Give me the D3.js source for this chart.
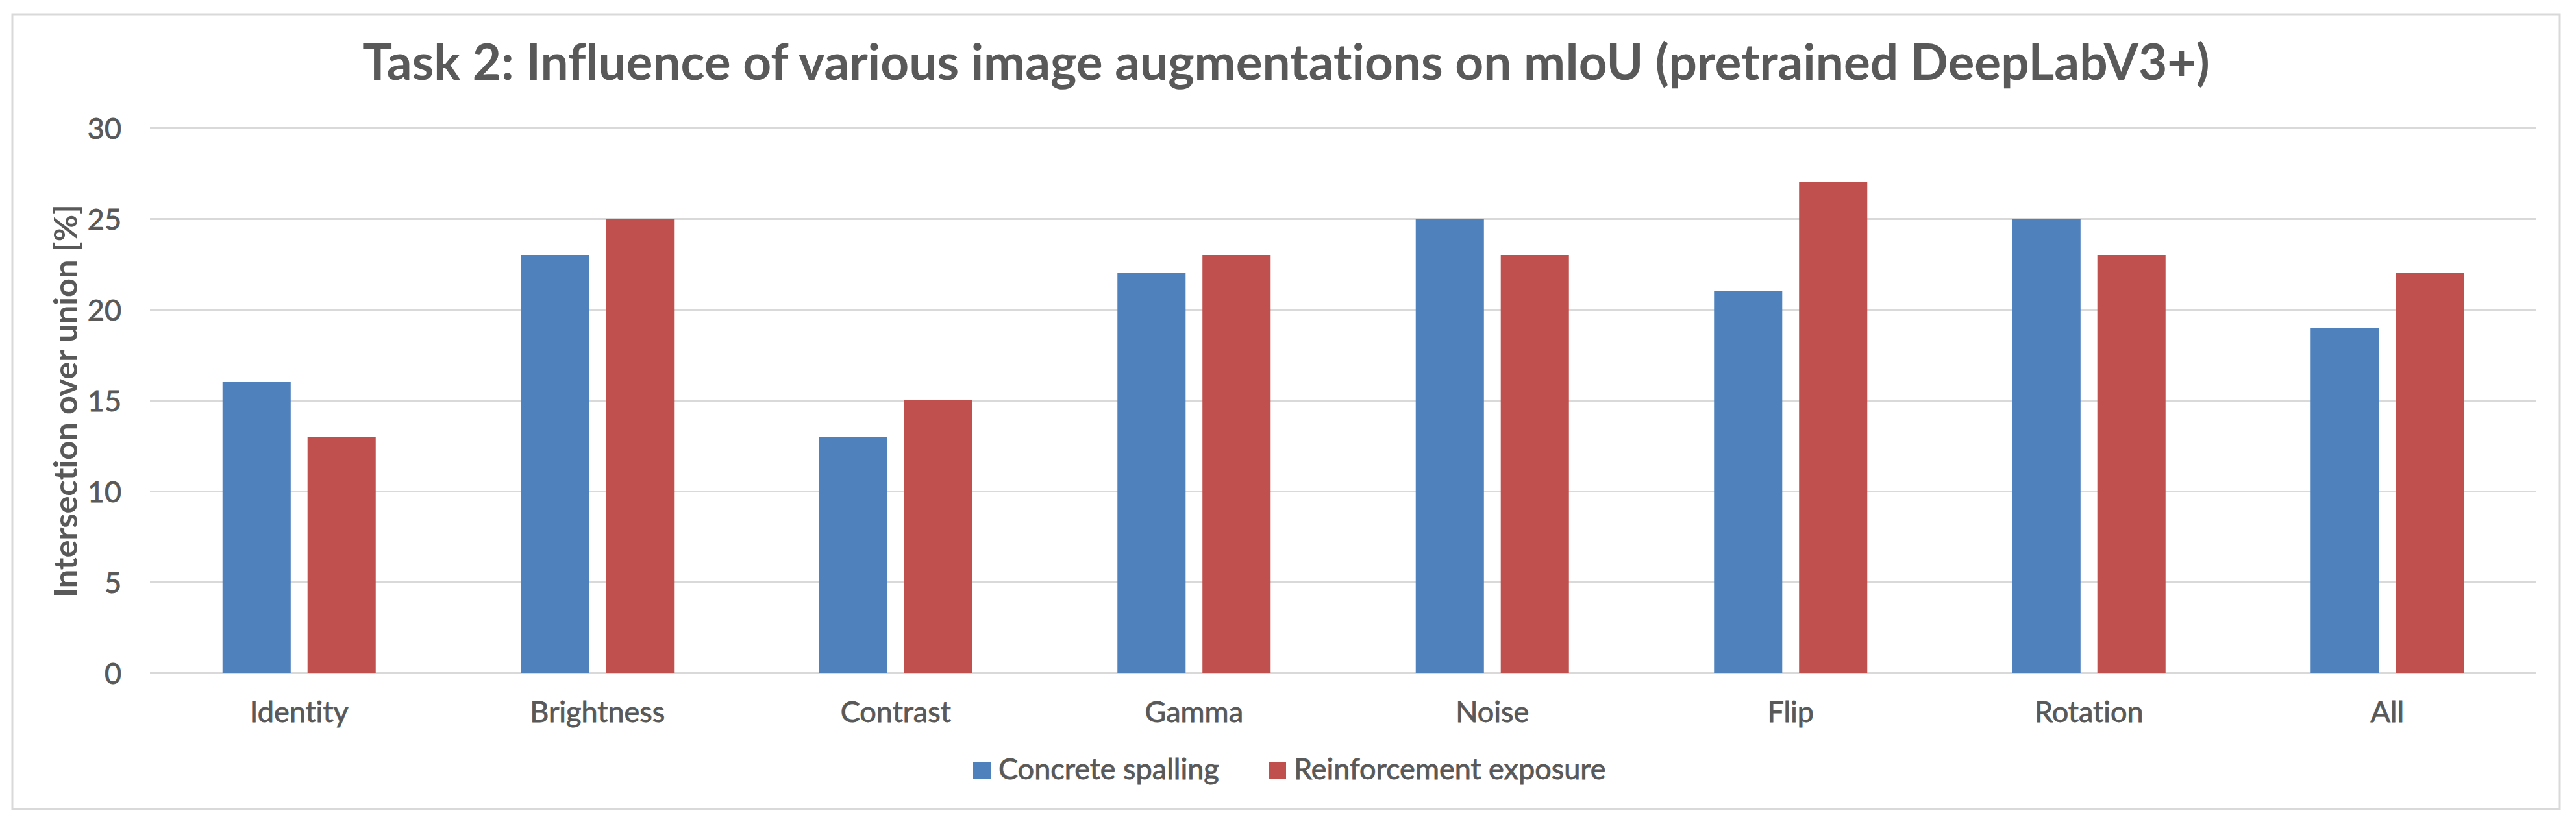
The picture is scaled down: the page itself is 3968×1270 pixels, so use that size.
<!DOCTYPE html>
<html>
<head>
<meta charset="utf-8">
<script src="https://cdn.jsdelivr.net/npm/d3@7"></script>
<style>
  html, body { margin: 0; padding: 0; background: #ffffff; }
  svg { display: block; }
  text { font-family: Lato, "Open Sans", sans-serif; fill: #595959; font-variant-ligatures: none; }
  text.reg { stroke: #595959; stroke-width: 0.9; }
</style>
</head>
<body>
<svg id="chart" width="3968" height="1270"></svg>
<script>
const categories = ["Identity", "Brightness", "Contrast", "Gamma", "Noise", "Flip", "Rotation", "All"];
const seriesNames = ["Concrete spalling", "Reinforcement exposure"];
const concreteSpalling = [16, 23, 13, 22, 25, 21, 25, 19];
const reinforcementExposure = [13, 25, 15, 23, 23, 27, 23, 22];
const yTicks = [0, 5, 10, 15, 20, 25, 30];
const titleText = "Task 2: Influence of various image augmentations on mIoU (pretrained DeepLabV3+)";
const yTitleText = "Intersection over union [%]";
const colors = ["#4F81BD", "#C0504D"];

const seriesValues = [concreteSpalling, reinforcementExposure];

const plot = { left: 231, right: 3907, top: 197, bottom: 1037 };

const svg = d3.select("#chart");

// outer chart border
svg.append("rect")
  .attr("x", 19).attr("y", 22)
  .attr("width", 3943 - 19).attr("height", 1247 - 22)
  .attr("fill", "#ffffff")
  .attr("stroke", "#D9D9D9").attr("stroke-width", 3);

const y = d3.scaleLinear().domain([0, 30]).range([plot.bottom, plot.top]);
const x0 = d3.scaleBand().domain(categories).range([plot.left, plot.right]).paddingInner(0).paddingOuter(0);
const groupW = 236;
const x1 = d3.scaleBand().domain(seriesNames)
  .range([(x0.bandwidth() - groupW) / 2, (x0.bandwidth() + groupW) / 2])
  .paddingInner(0.198).paddingOuter(0);

// gridlines
const yAxisGrid = d3.axisLeft(y).tickValues(yTicks).tickSize(-(plot.right - plot.left)).tickFormat("");
const grid = svg.append("g").attr("transform", `translate(${plot.left},0)`).call(yAxisGrid);
grid.select(".domain").remove();
grid.selectAll("line").attr("stroke", "#D9D9D9").attr("stroke-width", 3);

// tick labels
const yAxis = d3.axisLeft(y).tickValues(yTicks).tickSize(0).tickPadding(0).tickFormat(d3.format("d"));
const yg = svg.append("g").attr("transform", `translate(187,0)`).call(yAxis);
yg.select(".domain").remove();
yg.selectAll("text")
  .attr("class", "reg")
  .attr("font-size", 44)
  .style("font-family", "Lato, sans-serif")
  .attr("fill", "#595959")
  .attr("dy", "0.36em");

// bars
const groups = svg.append("g").selectAll("g")
  .data(categories)
  .join("g")
  .attr("transform", d => `translate(${x0(d)},0)`);

groups.selectAll("rect")
  .data((d, i) => seriesNames.map((s, j) => ({ s, v: seriesValues[j][i], j })))
  .join("rect")
  .attr("x", d => x1(d.s))
  .attr("width", x1.bandwidth())
  .attr("y", d => y(d.v))
  .attr("height", d => y(0) - y(d.v))
  .attr("fill", d => colors[d.j]);

// category labels
const xAxis = d3.axisBottom(x0).tickSize(0).tickPadding(0);
const xg = svg.append("g").attr("transform", `translate(0,1113)`).call(xAxis);
xg.select(".domain").remove();
xg.selectAll("text")
  .attr("class", "reg")
  .attr("font-size", 44)
  .style("font-family", "Lato, sans-serif")
  .attr("fill", "#595959")
  .attr("dy", 0)
  .attr("y", 0);

function fitSize(sel, target, base) {
  sel.attr("font-size", base);
  const w = sel.node().getComputedTextLength();
  sel.attr("font-size", base * target / w);
}

// fit category label size using "Identity" width
const idLabel = xg.selectAll("text").filter(d => d === "Identity");
fitSize(idLabel, 152, 44);
const catSize = +idLabel.attr("font-size");
xg.selectAll("text").attr("font-size", catSize);
yg.selectAll("text").attr("font-size", catSize);

// title
const title = svg.append("text")
  .attr("x", 1981).attr("y", 123)
  .attr("text-anchor", "middle")
  .attr("font-weight", "bold")
  .text(titleText);
fitSize(title, 2846, 78);

// y-axis title
const yTitle = svg.append("text")
  .attr("transform", "translate(119,618) rotate(-90)")
  .attr("text-anchor", "middle")
  .attr("font-weight", "bold")
  .text(yTitleText);
fitSize(yTitle, 606, 44);

// legend
const legendX = [1499, 1954];
const legend = svg.append("g").selectAll("g")
  .data(seriesNames)
  .join("g")
  .attr("transform", (d, i) => `translate(${legendX[i]},1174)`);
legend.append("rect")
  .attr("width", 27).attr("height", 27)
  .attr("fill", (d, i) => colors[i]);
legend.append("text")
  .attr("class", "reg")
  .attr("x", 39).attr("y", 27)
  .attr("font-size", catSize)
  .text(d => d);
</script>
</body>
</html>
